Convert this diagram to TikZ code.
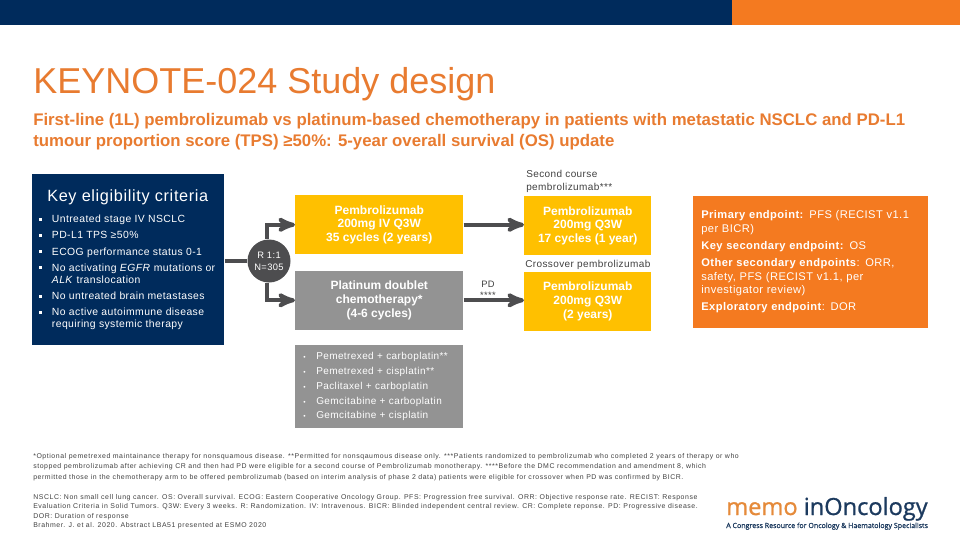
\documentclass[tikz,border=0pt]{standalone}
\usepackage{fontspec}
\setmainfont{Liberation Sans}
\newfontfamily\widefont[LetterSpace=4]{Liberation Sans}
\newfontfamily\notefont[LetterSpace=8.1]{Liberation Sans}
\newfontfamily\logofont[FakeBold=1]{Open Sans}
\usepackage{tikz}
\usetikzlibrary{arrows}
\usetikzlibrary{positioning}
\definecolor{navy}{HTML}{002B5C}
\definecolor{brandorange}{HTML}{F47A20}
\definecolor{titleorange}{HTML}{E87B30}
\definecolor{memoorange}{HTML}{E58A3A}
\definecolor{logonavy}{HTML}{1C3A5E}
\definecolor{armyellow}{HTML}{FFC000}
\definecolor{armgrey}{HTML}{939393}
\definecolor{linegrey}{HTML}{4D4D4F}
\definecolor{textgrey}{HTML}{404040}
\newcommand{\sqbullet}{\rule[1.6pt]{2pt}{2pt}}
\tikzset{
    armbox/.style={
           rectangle,
           inner sep=0pt,
           minimum height=44.25pt,
           text=white,
           align=center,
           font=\fontsize{9}{10.4}\selectfont\bfseries,
           },
    yellowbox/.style={
           armbox,
           fill=armyellow,
           minimum width=95.25pt,
           },
    greybox/.style={
           armbox,
           fill=armgrey,
           minimum width=126pt,
           },
    caption/.style={
           inner sep=0pt,
           text=textgrey,
           align=left,
           font=\fontsize{7.5}{9.6}\widefont,
           },
    footnote/.style={
           inner sep=0pt,
           anchor=north west,
           text=textgrey,
           align=left,
           font=\fontsize{5.2}{7.6}\notefont,
           },
    link/.style={
           draw=linegrey,
           line width=3pt,
           },
}
\begin{document}
\begin{tikzpicture}[x=0.75pt,y=-0.75pt,->,>=stealth']
 \useasboundingbox (0,0) rectangle (960,540);
 \fill[navy] (0,0) rectangle (732,25);
 \fill[brandorange] (732,0) rectangle (960,25);
 \node[inner sep=0pt,anchor=base west,text=titleorange,
 font=\fontsize{27}{30}\selectfont] (title) at (33,93) {KEYNOTE-024 Study design};
 \node[inner sep=0pt,anchor=north west,text=titleorange,align=left,
 font=\fontsize{12.6}{15.75}\selectfont\bfseries] (subtitle) at (33,113)
 {First-line (1L) pembrolizumab vs platinum-based chemotherapy in patients with metastatic NSCLC and PD-L1\\
 tumour proportion score (TPS) ≥50\%: 5-year overall survival (OS) update};

 \node[rectangle,fill=navy,anchor=north west,minimum width=144pt,minimum height=128.25pt] (criteria) at (32,174) {};
 \node[inner sep=0pt,text=white,anchor=base west,
 font=\fontsize{12.2}{13}\widefont] (criteriatitle) at (47,201) {Key eligibility criteria};
 \node[inner sep=0pt,text=white,anchor=north west,
 font=\fontsize{7.8}{9}\widefont] (criterialist) at (39,214)
 {%
 \begin{tabular}{@{}l@{\hspace{7.5pt}}l@{}}
  \sqbullet & Untreated stage IV NSCLC\\[3pt]
  \sqbullet & PD-L1 TPS ≥50\%\\[3.4pt]
  \sqbullet & ECOG performance status 0-1\\[3pt]
  \sqbullet & No activating \textit{EGFR} mutations or\\
            & \textit{ALK} translocation\\[3.5pt]
  \sqbullet & No untreated brain metastases\\[3pt]
  \sqbullet & No active autoimmune disease\\
            & requiring systemic therapy
 \end{tabular}
 };

 \node[yellowbox,minimum width=126pt,anchor=north west] (pembro) at (295,195)
 {Pembrolizumab\\200mg IV Q3W\\35 cycles (2 years)};
 \node[greybox,below=12pt of pembro] (platinum)
 {Platinum doublet\\chemotherapy*\\(4-6 cycles)};
 \node[rectangle,fill=armgrey,below=11pt of platinum,text width=114pt,minimum height=62.5pt,
 inner xsep=6pt,inner ysep=0pt,align=left,text=white,font=\fontsize{7.5}{9}\widefont] (regimens)
 {%
 \begin{tabular}{@{}l@{\hspace{8pt}}l@{}}
  {\tiny\textbullet} & Pemetrexed + carboplatin**\\[2.2pt]
  {\tiny\textbullet} & Pemetrexed + cisplatin**\\[2.2pt]
  {\tiny\textbullet} & Paclitaxel + carboplatin\\[2.2pt]
  {\tiny\textbullet} & Gemcitabine + carboplatin\\[2.2pt]
  {\tiny\textbullet} & Gemcitabine + cisplatin
 \end{tabular}
 };
 \node[yellowbox,anchor=north west] (second) at (524,196)
 {Pembrolizumab\\200mg Q3W\\17 cycles (1 year)};
 \node[yellowbox,below=12pt of second] (crossover)
 {Pembrolizumab\\200mg Q3W\\(2 years)};
 \node[circle,fill=linegrey,text=white,minimum size=32.25pt,inner sep=0pt,align=center,
 font=\fontsize{7}{9}\widefont] (rand) at (269,261) {R 1:1\\N=305};

 \node[caption,anchor=south west] (secondlabel) at (526,193) {Second course\\pembrolizumab***};
 \node[caption,anchor=south west] (crosslabel) at (525,270) {Crossover pembrolizumab};
 \node[caption,anchor=south,align=center,font=\fontsize{7}{8.6}\widefont] (pdlabel) at (488,299) {PD\\****};

 \node[rectangle,fill=brandorange,anchor=north west,text width=164.25pt,minimum height=99pt,
 inner xsep=6pt,inner ysep=0pt,align=left,text=white,font=\fontsize{8.35}{10}\widefont] (endpoints) at (693,196)
 {%
 \begin{tabular}{@{}l@{}}
  \textbf{Primary endpoint:} PFS (RECIST v1.1\\
  per BICR)\\[3pt]
  \textbf{Key secondary endpoint:} OS\\[3pt]
  \textbf{Other secondary endpoints}: ORR,\\
  safety, PFS (RECIST v1.1, per\\
  investigator review)\\[3pt]
  \textbf{Exploratory endpoint}: DOR
 \end{tabular}
 };

 \node[footnote] (notes) at (33,453.5)
 {*Optional pemetrexed maintainance therapy for nonsquamous disease. **Permitted for nonsqaumous disease only. ***Patients randomized to pembrolizumab who completed 2 years of therapy or who\\
 stopped pembrolizumab after achieving CR and then had PD were eligible for a second course of Pembrolizumab monotherapy. ****Before the DMC recommendation and amendment 8, which\\
 permitted those in the chemotherapy arm to be offered pembrolizumab (based on interim analysis of phase 2 data) patients were eligible for crossover when PD was confirmed by BICR.};
 \node[footnote,font=\fontsize{5.2}{7.1}\notefont] (abbrev) at (33,494)
 {NSCLC: Non small cell lung cancer. OS: Overall survival. ECOG: Eastern Cooperative Oncology Group. PFS: Progression free survival. ORR: Objective response rate. RECIST: Response\\
 Evaluation Criteria in Solid Tumors. Q3W: Every 3 weeks. R: Randomization. IV: Intravenous. BICR: Blinded independent central review. CR: Complete reponse. PD: Progressive disease.\\
 DOR: Duration of response\\
 Brahmer. J. et al. 2020. Abstract LBA51 presented at ESMO 2020};

 \node[inner sep=0pt,anchor=base west,text=logonavy,font=\fontsize{17.7}{20}\logofont] (logo) at (726,515)
 {\textcolor{memoorange}{memo} inOncology};
 \node[inner sep=0pt,anchor=base west,text=logonavy,font=\fontsize{5.3}{6}\logofont] (tagline) at (726,528)
 {A Congress Resource for Oncology \& Haematology Specialists};

 \path[every edge/.style={link}]
  (criteria.east |- rand) edge[-] (rand)
  ([xshift=-1.5pt]rand.north) edge[to path={|- (\tikztotarget)}] (pembro.west)
  ([xshift=-1.5pt]rand.south) edge[to path={|- (\tikztotarget)}] (platinum.west)
  (pembro) edge (pembro -| second.west)
  (platinum) edge (platinum -| crossover.west)
 ;
\end{tikzpicture}
\end{document}
